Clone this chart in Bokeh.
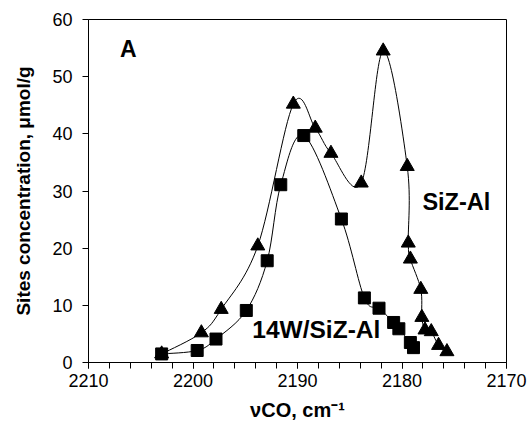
import numpy as np
from bokeh.plotting import figure
from bokeh.models import Range1d, FixedTicker, ColumnDataSource
from bokeh.core.properties import value
from bokeh.embed import file_html
from bokeh.resources import INLINE

# SiZ-Al (triangles)
siz_x = [2203.0, 2199.2, 2197.3, 2193.8, 2190.4, 2188.3, 2186.8, 2183.9, 2181.8,
         2179.5, 2179.4, 2179.2, 2178.2, 2178.1, 2177.8, 2177.2, 2176.5, 2175.7]
siz_y = [1.5, 5.2, 9.3, 20.4, 45.2, 41.0, 36.6, 31.4, 54.5,
         34.3, 20.9, 18.1, 12.8, 7.9, 5.7, 5.4, 3.0, 1.9]
# 14W/SiZ-Al (squares)
w_x = [2203.0, 2199.6, 2197.8, 2194.9, 2192.9, 2191.6, 2189.4, 2185.8, 2183.6,
       2182.2, 2180.8, 2180.3, 2179.2, 2178.9]
w_y = [1.5, 2.1, 4.1, 9.1, 17.8, 31.1, 39.7, 25.1, 11.3, 9.5, 7.0, 5.9, 3.5, 2.6]

x_ticks = [2210, 2200, 2190, 2180, 2170]
y_ticks = [0, 10, 20, 30, 40, 50, 60]

FONT = "Liberation Sans"

p = figure(width=528, height=428, output_backend="svg", toolbar_location=None,
           x_range=Range1d(2210, 2170), y_range=Range1d(0, 60),
           min_border_left=88, min_border_right=22, min_border_top=19, min_border_bottom=66)
p.xgrid.visible = False
p.ygrid.visible = False
p.outline_line_color = "black"
p.outline_line_width = 1
p.background_fill_color = "white"
p.border_fill_color = "white"


def smooth(xs, ys):
    x = np.array(xs, float); y = np.array(ys, float)
    n = len(x)
    xe = np.concatenate([[x[0]], x, [x[-1]]]); ye = np.concatenate([[y[0]], y, [y[-1]]])
    x0, y0, x1, y1, cx0, cy0, cx1, cy1 = [], [], [], [], [], [], [], []
    for i in range(n - 1):
        a, b, c, d = i, i + 1, i + 2, i + 3
        x0.append(xe[b]); y0.append(ye[b]); x1.append(xe[c]); y1.append(ye[c])
        cx0.append(xe[b] + (xe[c] - xe[a]) / 6); cy0.append(ye[b] + (ye[c] - ye[a]) / 6)
        cx1.append(xe[c] - (xe[d] - xe[b]) / 6); cy1.append(ye[c] - (ye[d] - ye[b]) / 6)
    return dict(x0=x0, y0=y0, x1=x1, y1=y1, cx0=cx0, cy0=cy0, cx1=cx1, cy1=cy1)


for xs, ys in [(siz_x, siz_y), (w_x, w_y)]:
    src = ColumnDataSource(smooth(xs, ys))
    p.bezier(x0="x0", y0="y0", x1="x1", y1="y1", cx0="cx0", cy0="cy0", cx1="cx1", cy1="cy1",
             source=src, line_color="black", line_width=1)

p.scatter(siz_x, siz_y, marker="triangle", size=14, color="black")
p.scatter(w_x, w_y, marker="square", size=12, color="black")

p.text(x=[2206.2], y=[54.9], text=["A"], text_font=value(FONT), text_font_style="bold",
       text_font_size="23px", text_align="center", text_baseline="middle", text_color="black")
p.text(x=[2174.8], y=[28.0], text=["SiZ-Al"], text_font=value(FONT), text_font_style="bold",
       text_font_size="23.5px", text_align="center", text_baseline="middle", text_color="black")
p.text(x=[2188.2], y=[5.8], text=["14W/SiZ-Al"], text_font=value(FONT), text_font_style="bold",
       text_font_size="24.5px", text_align="center", text_baseline="middle", text_color="black")

for ax in (p.xaxis[0], p.yaxis[0]):
    ax.axis_line_color = "black"
    ax.major_tick_line_color = "black"
    ax.minor_tick_line_color = "black"
    ax.major_label_text_font = FONT
    ax.major_label_text_font_size = "18px"
    ax.major_label_text_color = "black"
    ax.axis_label_text_font = FONT
    ax.axis_label_text_font_style = "bold"
    ax.axis_label_text_color = "black"
    ax.major_tick_in = 0
    ax.minor_tick_in = 0
    ax.major_tick_out = 6

p.xaxis[0].ticker = FixedTicker(ticks=x_ticks, minor_ticks=list(range(2170, 2211, 2)))
p.xaxis[0].minor_tick_out = 6
p.yaxis[0].ticker = FixedTicker(ticks=y_ticks, minor_ticks=[])
p.yaxis[0].minor_tick_out = 0
p.xaxis[0].axis_label = "νCO, cm⁻¹"
p.yaxis[0].axis_label = "Sites concentration, μmol/g"
p.xaxis[0].axis_label_text_font_size = "20px"
p.yaxis[0].axis_label_text_font_size = "19px"
p.xaxis[0].major_label_standoff = 5
p.yaxis[0].major_label_standoff = 10
p.xaxis[0].axis_label_standoff = 9
p.yaxis[0].axis_label_standoff = 15

open("out.html", "w").write(file_html(p, INLINE))
